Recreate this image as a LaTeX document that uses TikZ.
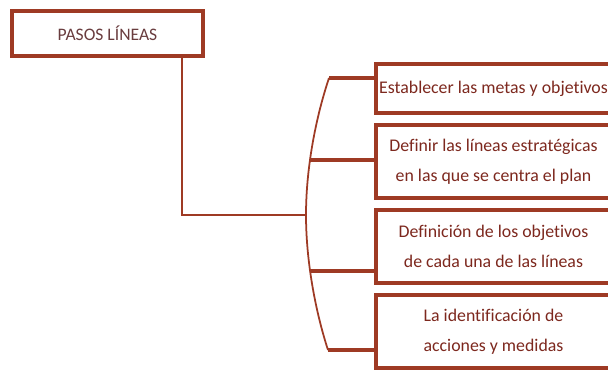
\documentclass[tikz,border=0pt]{standalone}
\usepackage{fontspec}
\setmainfont{Carlito}[Ligatures=NoCommon]
\usetikzlibrary{positioning}
\definecolor{rust}{RGB}{158,58,36}
\definecolor{rusttext}{RGB}{125,40,30}
\definecolor{titletext}{RGB}{105,60,62}

\begin{document}
\begin{tikzpicture}[x=0.03cm, y=-0.03cm]
                \tikzstyle{paso}=[draw=rust, line width=3pt, outer sep=0pt, inner sep=0pt, minimum width=7.05cm, minimum height=2.19cm, align=center, text=rusttext, font=\fontsize{15.2}{26}\selectfont, node distance=0.36cm]
                \tikzstyle{rama}=[draw=rust, line width=2.8pt]
                \tikzstyle{llave}=[draw=rust, line width=1.5pt]

                \useasboundingbox (0,0) rectangle (608,371);
                \fill[white] (0,0) rectangle (608,371);

                \node[paso, minimum width=5.73cm, minimum height=1.35cm, text=titletext, font=\fontsize{15}{18}\selectfont] (p) at (107.5,33.5) {PASOS LÍNEAS};
                \node[paso, minimum height=1.47cm] (e) at (493.5,88.5) {Establecer las metas y objetivos};
                \node[paso, below=of e] (d) {Definir las líneas estratégicas\\en las que se centra el plan};
                \node[paso, below=of d] (o) {Definición de los objetivos\\de cada una de las líneas};
                \node[paso, below=of o] (a) {La identificación de\\acciones y medidas};

                \coordinate (j) at (306,215);
                \coordinate (b1) at (329,78);
                \coordinate (b2) at (310,160);
                \coordinate (b3) at (310,271);
                \coordinate (b4) at (328,350);

                \draw[rama, line width=2.2pt] ([xshift=-0.63cm]p.south east) |- (j);
                \draw[llave] (b1) .. controls (315,120) and (306,170) .. (j) .. controls (306,260) and (315,310) .. (b4);

                \draw[rama] (b1) -- (b1 -| e.west);
                \draw[rama] (b2) -- (b2 -| d.west);
                \draw[rama] (b3) -- (b3 -| o.west);
                \draw[rama] (b4) -- (b4 -| a.west);
            \end{tikzpicture}
\end{document}
